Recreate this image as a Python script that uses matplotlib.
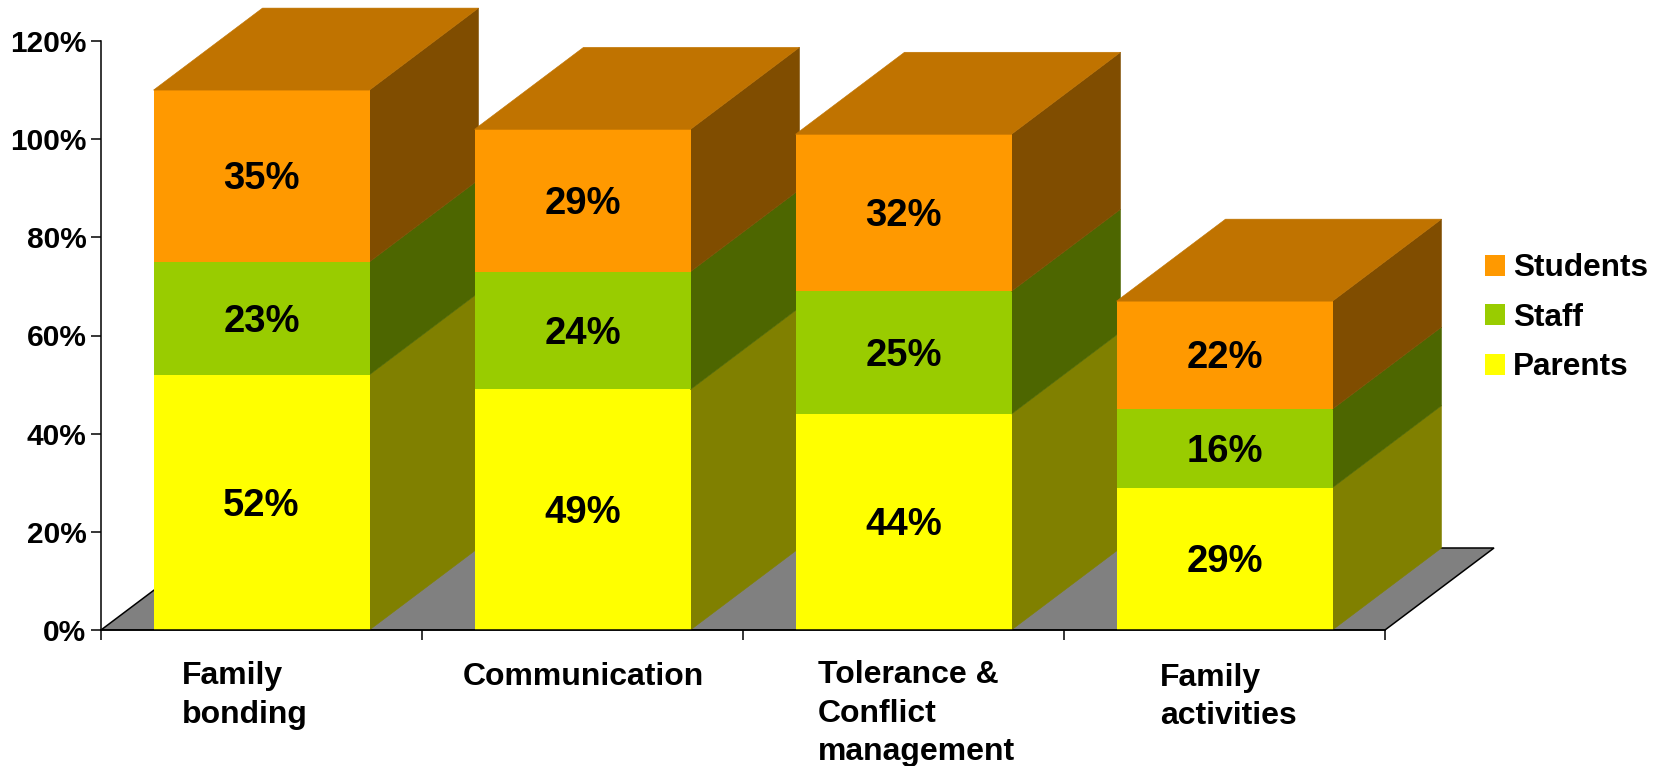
import numpy as np
import matplotlib
matplotlib.use("Agg")
import matplotlib.pyplot as plt
from matplotlib.patches import Patch

plt.rcParams['font.family'] = ['Liberation Sans', 'DejaVu Sans']
plt.rcParams['font.weight'] = 'bold'

categories = ['Family\nbonding', 'Communication', 'Tolerance &\nConflict\nmanagement', 'Family\nactivities']
parents = [52, 49, 44, 29]
staff = [23, 24, 25, 16]
students = [35, 29, 32, 22]
series_names = ['Parents', 'Staff', 'Students']
y_ticks = [0, 20, 40, 60, 80, 100, 120]

front_colors = ['#FFFF00', '#99CC00', '#FF9900']
side_colors = ['#808000', '#4D6600', '#804D00']
top_color = '#C07300'

W, H = 1668, 766
DEPTH_X = 109 / 321  # in category widths
DEPTH_Y = 82 / 4.908  # in percent
BAR_W = 216 / 321


def px(x, y):
    return x / W, 1 - y / H


fig = plt.figure(figsize=(W / 100, H / 100), dpi=100)
ax = fig.add_axes([101 / W, 1 - 630 / H, (1385 - 101) / W, (630 - 41) / H])
ax.set_xlim(-0.5, 3.5)
ax.set_ylim(0, 120)

# floor
ax.fill([-0.5, 3.5, 3.5 + DEPTH_X, -0.5 + DEPTH_X], [0, 0, DEPTH_Y, DEPTH_Y],
        facecolor='#808080', edgecolor='black', linewidth=1.1, zorder=1, clip_on=False)

data = [parents, staff, students]
x = np.arange(len(categories))
for i in x:
    z = 3 + i
    bottom = 0
    for s in range(3):
        val = data[s][i]
        x0, x1 = i - BAR_W / 2, i + BAR_W / 2
        ax.fill([x1, x1 + DEPTH_X, x1 + DEPTH_X, x1],
                [bottom, bottom + DEPTH_Y, bottom + val + DEPTH_Y, bottom + val],
                facecolor=side_colors[s], edgecolor=side_colors[s], linewidth=0.4,
                zorder=z, clip_on=False)
        ax.bar(i, val, BAR_W, bottom=bottom, color=front_colors[s], zorder=z, clip_on=False)
        ax.annotate('%d%%' % val, (i, bottom + val / 2), xytext=(0, -2.3),
                    textcoords='offset points', ha='center', va='center',
                    fontsize=27.5, fontweight='bold', color='black', zorder=z + 0.5)
        bottom += val
    ax.fill([x0, x1, x1 + DEPTH_X, x0 + DEPTH_X],
            [bottom, bottom, bottom + DEPTH_Y, bottom + DEPTH_Y],
            facecolor=top_color, edgecolor=top_color, linewidth=0.4, zorder=z, clip_on=False)

for side in ['top', 'right']:
    ax.spines[side].set_visible(False)
for side in ['left', 'bottom']:
    ax.spines[side].set_linewidth(1.1)
    ax.spines[side].set_zorder(20)

ax.set_yticks(y_ticks)
ax.set_yticklabels(['%d%%' % v for v in y_ticks], fontsize=21.5, fontweight='bold')
ax.set_xticks(np.arange(-0.5, 4, 1))
ax.set_xticklabels([])
ax.tick_params(axis='both', direction='out', length=7.5, width=1.1, pad=3)

# category labels sit left aligned, each at its own place
label_xy = [(182, 684), (463, 685), (818, 683), (1160, 686)]
for name, (lx, ly) in zip(categories, label_xy):
    for n, line in enumerate(name.split('\n')):
        fx, fy = px(lx, ly + n * 38.5)
        fig.text(fx, fy, line, ha='left', va='baseline', fontsize=23, fontweight='bold')

handles = [Patch(facecolor=front_colors[s], label=series_names[s]) for s in [2, 1, 0]]
ax.legend(handles=handles, loc='upper left', bbox_to_anchor=px(1485, 253.5),
          bbox_transform=fig.transFigure, frameon=False, fontsize=22.7,
          handlelength=0.633, handleheight=0.633, handletextpad=0.25,
          labelspacing=0.615, borderpad=0, borderaxespad=0)

fig.savefig('out.png', dpi=100)
